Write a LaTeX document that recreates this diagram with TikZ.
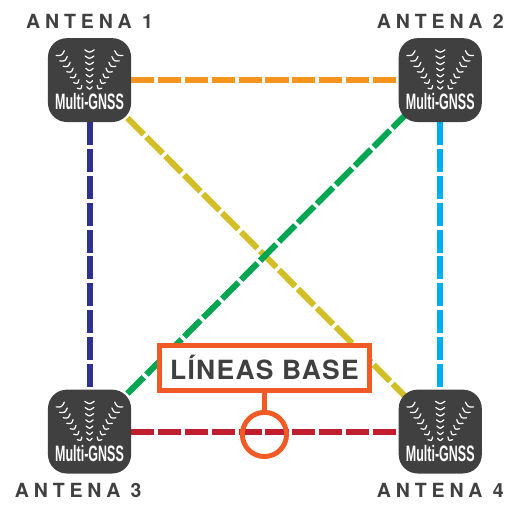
\documentclass[tikz,border=0pt]{standalone}
\usepackage{fontspec}
\usepackage{xcolor}
\usetikzlibrary{positioning,backgrounds}
\newfontfamily\antenafont[LetterSpace=25]{TeX Gyre Heros Bold}
\newfontfamily\basefont[LetterSpace=5]{TeX Gyre Heros Bold}
\newfontfamily\gnssfont[FakeStretch=0.56]{Liberation Sans Bold}
\definecolor{ink}{HTML}{404040}
\definecolor{lorange}{HTML}{F7941E}
\definecolor{lyellow}{HTML}{D2BF27}
\definecolor{lgreen}{HTML}{00A651}
\definecolor{lblue}{HTML}{2E3192}
\definecolor{lcyan}{HTML}{00AEEF}
\definecolor{lred}{HTML}{BE1E2D}
\definecolor{callout}{HTML}{F15A24}
\newcommand{\gnsstag}{\raisebox{-0.79cm}[0pt][0pt]{Multi-GNSS}}

\begin{document}
\begin{tikzpicture}[
    antena/.style={rectangle, rounded corners=0.5cm, fill=ink, text=white, minimum width=2.2cm, minimum height=2.22cm, inner sep=0pt, font=\gnssfont\fontsize{16.8}{18}\selectfont},
    tag/.style={text=ink, inner sep=0pt, font=\antenafont\fontsize{14.7}{16}\selectfont},
    baseline/.style={line width=0.16cm, dash pattern=on 0.61cm off 0.1cm},
    wavearc/.style={draw=white, line width=0.032cm, line cap=round},
    basebox/.style={rectangle, draw=callout, fill=white, line width=0.13cm, text=ink, minimum width=5.56cm, minimum height=1.19cm, inner sep=0pt, font=\basefont\fontsize{19.9}{22}\selectfont},
    ring/.style={circle, draw=callout, line width=0.13cm, minimum size=1.17cm, inner sep=0pt},
    node distance=7.07cm
]
\useasboundingbox (0,0) rectangle (13.5,13.42);

% Antennas
\node[antena] (ant1) at (2.37,11.3) {\gnsstag};
\node[antena, right=of ant1] (ant2) {\gnsstag};
\node[antena, below=of ant1] (ant3) {\gnsstag};
\node[antena, below=of ant2] (ant4) {\gnsstag};

% Titles
\node[tag, above=0.25cm of ant1] (tag1) {ANTENA 1};
\node[tag, above=0.25cm of ant2] (tag2) {ANTENA 2};
\node[tag, below=0.25cm of ant3, xshift=-0.3cm] (tag3) {ANTENA 3};
\node[tag, below=0.25cm of ant4] (tag4) {ANTENA 4};

% Signal arcs on each antenna
\foreach \a in {ant1,ant2,ant3,ant4}{
  \foreach \i in {0,...,6}{
    \pgfmathsetmacro{\w}{0.125-0.009*\i}
    \draw[wavearc, shift={(\a)}, shift={(0,{0.77-0.163*\i})}] (-\w,0.03) .. controls (0,-0.05) .. (\w,0.03);
    \draw[wavearc, shift={(\a)}, shift={({-0.76+0.085*\i},{0.69-0.149*\i})}, rotate=30] (-\w,0.03) .. controls (0,-0.05) .. (\w,0.03);
    \draw[wavearc, shift={(\a)}, shift={({0.76-0.085*\i},{0.69-0.149*\i})}, rotate=-30] (-\w,0.03) .. controls (0,-0.05) .. (\w,0.03);
  }
}

% Callout
\node[basebox] (base) at (7.0,3.68) {LÍNEAS BASE};
\node[ring, below=0.45cm of base] (mark) {};
\draw[callout, line width=0.13cm] (base.south) -- (mark.north);

% Baselines between antennas
\begin{scope}[on background layer]
\draw[baseline, lorange] (ant1.east) -- (ant2.west);
\draw[baseline, lblue] (ant1.south) -- (ant3.north);
\draw[baseline, lcyan] (ant2.south) -- (ant4.north);
\draw[baseline, lred] (ant3.east) -- (ant4.west);
\draw[baseline, lyellow] (ant1.center) -- (ant4.center);
\draw[baseline, lgreen] (ant3.center) -- (ant2.center);
\end{scope}

\end{tikzpicture}
\end{document}
